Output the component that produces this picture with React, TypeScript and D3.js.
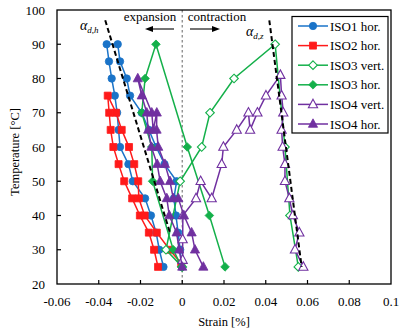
import React from "react";
import * as d3 from "d3";

// ---------- data ----------
const xTicks = [-0.06, -0.04, -0.02, 0, 0.02, 0.04, 0.06, 0.08, 0.1];
const yTicks = [20, 30, 40, 50, 60, 70, 80, 90, 100];

const iso1Temp = [25, 30, 35, 40, 45, 50, 55, 60, 65, 70, 75, 80, 85, 90, 90, 85, 80, 75, 70, 65, 60, 55, 50, 45, 40, 35, 30, 25];
const iso1Strain = [-0.009, -0.011, -0.0125, -0.015, -0.0178, -0.0237, -0.0258, -0.0298, -0.0305, -0.0312, -0.0323, -0.0338, -0.0351, -0.0362,
  -0.0309, -0.0298, -0.0266, -0.025, -0.0194, -0.016, -0.0125, -0.0085, -0.0027, -0.004, -0.003, -0.002, -0.001, -0.0002];

const iso2Temp = [25, 30, 35, 40, 45, 50, 55, 60, 65, 70, 75, 70, 65, 60, 55, 50, 45, 40, 35, 30, 26];
const iso2Strain = [-0.0116, -0.0135, -0.016, -0.0203, -0.024, -0.0278, -0.0305, -0.033, -0.0343, -0.035, -0.0357,
  -0.0317, -0.029, -0.0255, -0.023, -0.0211, -0.0208, -0.018, -0.0122, -0.006, -0.0005];

const iso3vTemp = [25, 30, 50, 60, 70, 80, 90, 60, 40, 25];
const iso3vStrain = [0.0, -0.0078, -0.001, 0.0093, 0.0133, 0.0248, 0.0445, 0.0492, 0.0516, 0.0556];

const iso3hTemp = [25, 30, 50, 60, 70, 80, 90, 60, 40, 25];
const iso3hStrain = [-0.0003, -0.0043, -0.0142, -0.0146, -0.0194, -0.0178, -0.0126, 0.0024, 0.013, 0.0205];

const iso4vTemp = [27, 33, 40, 45, 50, 45, 55, 60, 65, 70, 65, 70, 75, 81, 75, 70, 65, 60, 55, 50, 45, 40, 35, 30, 25];
const iso4vStrain = [0.0002, 0.0002, 0.0003, 0.0066, 0.0088, 0.0141, 0.0189, 0.0197, 0.0261, 0.0317, 0.0325, 0.036, 0.0401, 0.047,
  0.0476, 0.0484, 0.0476, 0.0481, 0.0492, 0.0492, 0.0513, 0.053, 0.0561, 0.054, 0.058];

const iso4hTemp = [25, 30, 35, 40, 45, 50, 55, 60, 65, 70, 75, 80, 70, 65, 70, 65, 60, 55, 50, 45, 45, 40, 35, 30, 25];
const iso4hStrain = [0.0, -0.0015, -0.0027, -0.0062, -0.0074, -0.0106, -0.012, -0.0148, -0.0163, -0.017, -0.0194, -0.0213,
  -0.0146, -0.0139, -0.0122, -0.0123, -0.0115, -0.0083, -0.0059, -0.0043, -0.0019, 0.0008, 0.0045, 0.0061, 0.0101];

const alphaHStrain = [-0.0369, -0.0059];
const alphaHTemp = [97, 35];
const alphaZStrain = [0.0417, 0.0572];
const alphaZTemp = [97, 25];

const seriesNames = ["ISO1 hor.", "ISO2 hor.", "ISO3 vert.", "ISO3 hor.", "ISO4 vert.", "ISO4 hor."];

// ---------- styles ----------
const BLUE = "#1a73c8";
const RED = "#ff1a1a";
const GREEN = "#14b04a";
const PURPLE = "#7030a0";
const FONT = "Liberation Serif, serif";
const TS: React.CSSProperties = { fontFamily: FONT };

type Shape = "circle" | "square" | "diamond" | "triangle";
const series = [
  { name: seriesNames[0], t: iso1Temp, s: iso1Strain, color: BLUE, shape: "circle" as Shape, open: false },
  { name: seriesNames[1], t: iso2Temp, s: iso2Strain, color: RED, shape: "square" as Shape, open: false },
  { name: seriesNames[2], t: iso3vTemp, s: iso3vStrain, color: GREEN, shape: "diamond" as Shape, open: true },
  { name: seriesNames[3], t: iso3hTemp, s: iso3hStrain, color: GREEN, shape: "diamond" as Shape, open: false },
  { name: seriesNames[4], t: iso4vTemp, s: iso4vStrain, color: PURPLE, shape: "triangle" as Shape, open: true },
  { name: seriesNames[5], t: iso4hTemp, s: iso4hStrain, color: PURPLE, shape: "triangle" as Shape, open: false },
];

function markerPath(shape: Shape): string {
  switch (shape) {
    case "circle":
      return "M3.7,0A3.7,3.7,0,1,1,-3.7,0A3.7,3.7,0,1,1,3.7,0Z";
    case "square":
      return "M-3.5,-3.5L3.5,-3.5L3.5,3.5L-3.5,3.5Z";
    case "diamond":
      return "M0,-4.3L4.3,0L0,4.3L-4.3,0Z";
    case "triangle":
      return "M0,-5.2L4.6,3.3L-4.6,3.3Z";
  }
}

export default function App() {
  const W = 415, H = 332;
  const L = 57, R = 391, T = 10, B = 284;
  const x = d3.scaleLinear().domain([-0.06, 0.1]).range([L, R]);
  const y = d3.scaleLinear().domain([20, 100]).range([B, T]);

  const line = d3.line<[number, number]>().x((d) => x(d[0])).y((d) => y(d[1]));

  const legX = 292, legY = 16.5, legW = 96, legH = 116.5;

  return (
    <svg width={W} height={H} style={{ position: "absolute", left: 0, top: 0, background: "#fff", fontFamily: FONT }}>
      <rect x={0} y={0} width={W} height={H} fill="#fff" />
      {/* zero dotted line */}
      <line x1={x(0)} x2={x(0)} y1={T} y2={B} stroke="#888" strokeWidth={1.3} strokeDasharray="2.5,2.5" />

      {/* series */}
      {series.map((se, i) => {
        const pts: [number, number][] = se.s.map((v, k) => [v, se.t[k]]);
        return (
          <g key={i}>
            <path d={line(pts) || ""} fill="none" stroke={se.color} strokeWidth={1.5} />
            {pts.map((p, k) => (
              <path key={k} d={markerPath(se.shape)} transform={`translate(${x(p[0])},${y(p[1])})`}
                fill={se.open ? "#fff" : se.color} stroke={se.color} strokeWidth={se.open ? 1.1 : 0.8} />
            ))}
          </g>
        );
      })}

      {/* alpha dashed lines */}
      <path d={line(alphaHStrain.map((v, k) => [v, alphaHTemp[k]] as [number, number])) || ""} stroke="#000" strokeWidth={2} strokeDasharray="5,3" fill="none" />
      <path d={line(alphaZStrain.map((v, k) => [v, alphaZTemp[k]] as [number, number])) || ""} stroke="#000" strokeWidth={2} strokeDasharray="5,3" fill="none" />

      {/* frame */}
      <rect x={L} y={T} width={R - L} height={B - T} fill="none" stroke="#000" strokeWidth={1.3} />

      {/* ticks */}
      {xTicks.map((v, i) => (
        <g key={"x" + i}>
          {i > 0 && i < xTicks.length - 1 && <line x1={x(v)} x2={x(v)} y1={B} y2={B - 4} stroke="#000" strokeWidth={1.2} />}
          <text x={x(v)} y={306} textAnchor="middle" fontSize={13} fill="#000" style={TS}>{String(v)}</text>
        </g>
      ))}
      {yTicks.map((v, i) => (
        <g key={"y" + i}>
          {i > 0 && i < yTicks.length - 1 && <line x1={L} x2={L + 4} y1={y(v)} y2={y(v)} stroke="#000" strokeWidth={1.2} />}
          <text x={45} y={y(v) + 4.5} textAnchor="end" fontSize={13} fill="#000" style={TS}>{v}</text>
        </g>
      ))}

      {/* axis titles */}
      <text x={(L + R) / 2} y={326} textAnchor="middle" fontSize={12.5} fill="#000" style={TS}>Strain [%]</text>
      <text transform={`translate(19,152) rotate(-90)`} textAnchor="middle" fontSize={12.5} fill="#000" style={TS}>Temperature [°C]</text>

      {/* annotations */}
      <text x={150} y={21} textAnchor="middle" fontSize={13} fill="#000" style={TS}>expansion</text>
      <text x={217} y={21} textAnchor="middle" fontSize={13} fill="#000" style={TS}>contraction</text>
      <line x1={174} x2={148} y1={29} y2={29} stroke="#000" strokeWidth={1.1} />
      <path d="M145,29L153,26L153,32Z" fill="#000" />
      <line x1={190} x2={217} y1={29} y2={29} stroke="#000" strokeWidth={1.1} />
      <path d="M220,29L212,26L212,32Z" fill="#000" />

      <text x={80} y={30} fontSize={14} fontStyle="italic" fill="#000" style={TS}>α<tspan fontSize={9} dy={3}>d,h</tspan></text>
      <text x={246} y={36} fontSize={14} fontStyle="italic" fill="#000" style={TS}>α<tspan fontSize={9} dy={3}>d,z</tspan></text>

      {/* legend */}
      <rect x={legX} y={legY} width={legW} height={legH} fill="#fff" stroke="#000" strokeWidth={1.2} />
      {series.map((se, i) => {
        const ly = 26 + i * 19.6;
        return (
          <g key={"l" + i}>
            <line x1={298} x2={328} y1={ly} y2={ly} stroke={se.color} strokeWidth={1.5} />
            <path d={markerPath(se.shape)} transform={`translate(313,${ly})`} fill={se.open ? "#fff" : se.color} stroke={se.color} strokeWidth={se.open ? 1.1 : 0.8} />
            <text x={330} y={ly + 4.5} fontSize={13} fill="#000" style={TS}>{se.name}</text>
          </g>
        );
      })}
    </svg>
  );
}
